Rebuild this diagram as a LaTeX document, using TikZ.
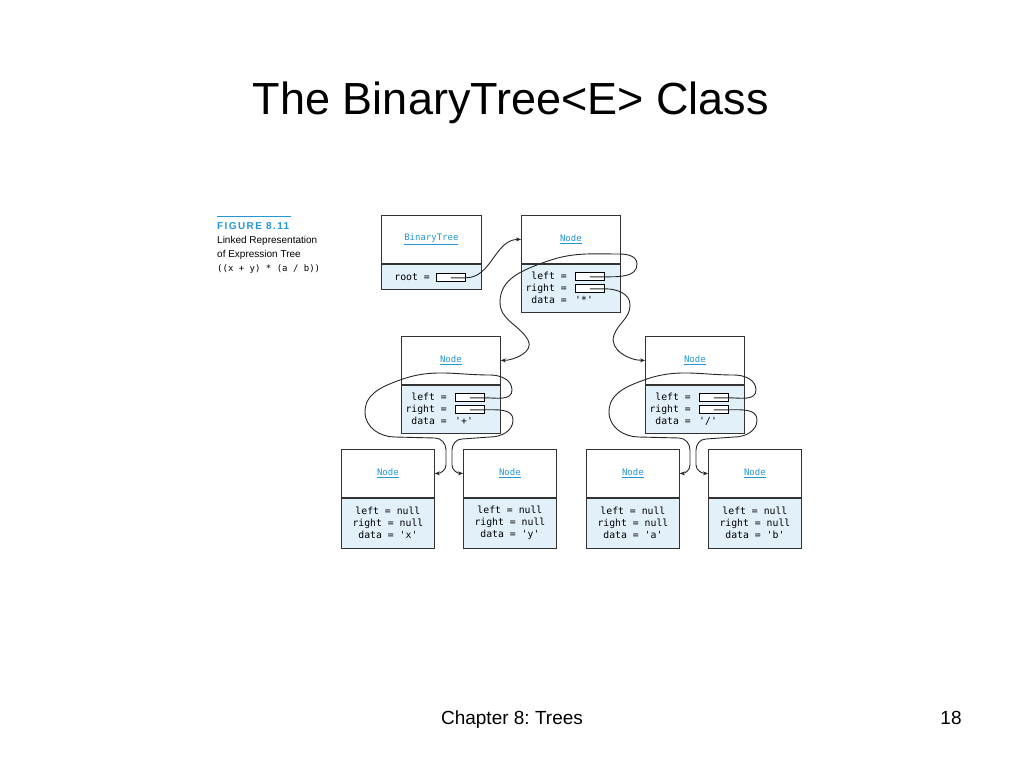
\documentclass[tikz,border=0pt]{standalone}
\usepackage{fontspec}
\setmainfont{Liberation Sans}
\setmonofont{DejaVu Sans Mono}
\newfontfamily\figfont[LetterSpace=14]{Liberation Sans}
\usetikzlibrary{positioning,arrows.meta}
\definecolor{nodeblue}{RGB}{35,150,215}
\definecolor{bodyblue}{RGB}{226,240,250}
\frenchspacing
\tikzset{
	hdr/.style={draw=black!80, fill=white, line width=0.8pt, minimum width=#1, minimum height=48pt, inner sep=0pt, text=nodeblue, font=\ttfamily\fontsize{9}{11}\selectfont},
	hdr/.default=99pt,
	bdy/.style={draw=black!80, fill=bodyblue, line width=0.8pt, minimum width=#1, minimum height=48pt, inner sep=0pt, align=center, font=\ttfamily\fontsize{9.8}{12}\selectfont},
	bdy/.default=99pt,
	row/.style={inner sep=0pt, font=\ttfamily\fontsize{9.8}{12}\selectfont},
	fld/.style={draw=black, fill=white, line width=0.7pt, minimum width=29pt, minimum height=8pt, inner sep=0pt},
	ptr/.style={draw=black!85, line width=0.9pt, -{Stealth[length=5pt,width=4pt]}}
}
\begin{document}
\begin{tikzpicture}[x=1pt,y=1pt]
	\useasboundingbox (0,0) rectangle (1024,-768);
	\fill[white] (0,0) rectangle (1024,-768);
	\node[anchor=base, font=\fontsize{45}{54}\selectfont] (title) at (511,-114) {The BinaryTree<E> Class};
	% legende
	\draw[nodeblue, line width=1pt] (217,-216) -- (291,-216);
	\node[anchor=base west, inner sep=0pt, text=nodeblue, font=\figfont\bfseries\fontsize{10}{12}\selectfont] (figno) at (217,-229) {FIGURE 8.11};
	\node[anchor=base west, inner sep=0pt, font=\fontsize{10}{12}\selectfont] (cap1) at (217,-243) {Linked Representation};
	\node[anchor=base west, inner sep=0pt, font=\fontsize{10}{12}\selectfont] (cap2) at (217,-257) {of Expression Tree};
	\node[anchor=base west, inner sep=0pt, font=\ttfamily\fontsize{9}{11}\selectfont] (cap3) at (217,-271) {((x + y) * (a / b))};
	%
	% boites
	%
	\node[hdr=100pt, anchor=north west] (tree) at (381,-215) {\underline{BinaryTree}};
	\node[bdy=100pt, minimum height=25pt, below=0pt of tree] (tree-b) {};
	\node[row, anchor=mid east, xshift=49pt, yshift=-14pt] (tree-t) at (tree-b.north west) {root =};
	\node[fld, anchor=west, xshift=55pt, yshift=-14pt] (tree-p) at (tree-b.north west) {};
	\node[hdr, anchor=north west] (times) at (521,-215) {\underline{Node}};
	\node[bdy, below=0pt of times] (times-b) {};
	\node[hdr, anchor=north west] (plus) at (401,-336) {\underline{Node}};
	\node[bdy, below=0pt of plus] (plus-b) {};
	\node[hdr, anchor=north west] (divide) at (645,-336) {\underline{Node}};
	\node[bdy, below=0pt of divide] (divide-b) {};
	\foreach \n/\d in {times/{'*'}, plus/{'+'}, divide/{'/'}}{
		\node[row, anchor=mid east, xshift=46pt, yshift=-13pt] (\n-t1) at (\n-b.north west) {left =};
		\node[row, anchor=mid east, xshift=46pt, yshift=-25pt] (\n-t2) at (\n-b.north west) {right =};
		\node[row, anchor=mid east, xshift=46pt, yshift=-37pt] (\n-t3) at (\n-b.north west) {data =};
		\node[fld, anchor=west, xshift=54pt, yshift=-13pt] (\n-l) at (\n-b.north west) {};
		\node[fld, anchor=west, xshift=54pt, yshift=-25pt] (\n-r) at (\n-b.north west) {};
		\node[row, anchor=mid west, xshift=54pt, yshift=-37pt] (\n-d) at (\n-b.north west) {\d};
	}
	\foreach \n/\x/\d in {leafx/341/x, leafy/463/y, leafa/586/a, leafb/708/b}{
		\node[hdr=93pt, anchor=north west] (\n) at (\x,-449) {\underline{Node}};
		\node[bdy=93pt, minimum height=50pt, below=0pt of \n] (\n-b) {left = null\\right = null\\data = '\d'};
	}
	%
	% pointeurs
	%
	\draw[ptr] (tree-p.center) -- (tree-p.east) to[out=0,in=180] (times.west);
	\draw[ptr] (times-l.center) -- (times-l.east) to[out=0,in=-90] (637,-264) to[out=90,in=0] (620,-254) to[out=180,in=20] (545,-262) to[out=200,in=90] (500,-302) to[out=-90,in=120] (528,-340) to[out=-60,in=0] (plus.east);
	\draw[ptr] (times-r.center) -- (times-r.east) to[out=0,in=90] (630,-305) to[out=-90,in=70] (614,-335) to[out=-110,in=180] (divide.west);
	\foreach \p/\l/\r/\s in {plus/leafx/leafy/0, divide/leafa/leafb/244}{
		\begin{scope}[xshift=\s pt]
			\draw[ptr] (\p-l.center) -- (\p-l.east) to[out=0,in=-90] (512,-390) to[out=90,in=0] (490,-375) to[out=180,in=20] (400,-380) to[out=200,in=90] (365,-412) to[out=-90,in=180] (395,-437) -- (435,-438) to[out=0,in=90] (446,-450) -- (446,-465) to[out=-90,in=0] (\l.east);
			\draw[ptr] (\p-r.center) -- (\p-r.east) to[out=0,in=90] (513,-420) to[out=-90,in=0] (490,-437) -- (462,-439) to[out=180,in=90] (452,-450) -- (452,-465) to[out=-90,in=180] (\r.west);
		\end{scope}
	}
	\node[anchor=base, font=\fontsize{19}{23}\selectfont] (chap) at (512,-724) {Chapter 8: Trees};
	\node[anchor=base, font=\fontsize{19}{23}\selectfont] (pageno) at (951,-724) {18};
\end{tikzpicture}
\end{document}
